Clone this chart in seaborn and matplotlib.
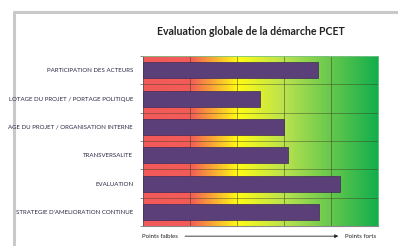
import numpy as np
import pandas as pd
import matplotlib
matplotlib.use("Agg")
import matplotlib.pyplot as plt
from matplotlib.colors import LinearSegmentedColormap
import seaborn as sns

# categories (left part of the long labels is cut off in the screenshot)
criteres = [
    "PARTICIPATION DES ACTEURS",
    "LOTAGE DU PROJET / PORTAGE POLITIQUE",
    "AGE DU PROJET / ORGANISATION INTERNE",
    "TRANSVERSALITE",
    "EVALUATION",
    "STRATEGIE D'AMELIORATION CONTINUE",
]
notes = [3.72, 2.49, 3.0, 3.09, 4.18, 3.74]

df = pd.DataFrame({"critere": criteres, "note": notes})

sns.set_style("white")
plt.rcParams["font.family"] = ["Lato", "DejaVu Sans"]

fig = plt.figure(figsize=(3.98, 2.46), dpi=100)
ax = fig.add_axes([0.359, 0.081, 0.591, 0.691])

# red -> yellow -> green background
cmap = LinearSegmentedColormap.from_list("rg", [
    (0.0, "#f25a5a"), (0.2, "#f25c57"), (0.27, "#f7943e"),
    (0.4, "#fffb14"), (0.6, "#b9e24e"), (1.0, "#12ae4c")])
grad = np.linspace(0, 1, 300).reshape(1, -1)
ax.imshow(grad, cmap=cmap, aspect="auto", extent=(0, 5, 5.5, -0.5), zorder=0)

sns.barplot(data=df, x="note", y="critere", orient="h", color="#5b3f79",
            saturation=1, width=0.57, edgecolor="#3f2a58", linewidth=0.5,
            ax=ax, zorder=3)

for v in range(1, 5):
    ax.axvline(v, color="#3a3a20", lw=0.5, alpha=0.7, zorder=2)
for k in range(len(criteres) - 1):
    ax.axhline(k + 0.5, color="#3a3a20", lw=0.5, alpha=0.6, zorder=2)

ax.set_xlim(0, 5)
ax.set_ylim(5.5, -0.5)
ax.set_xlabel("")
ax.set_ylabel("")
ax.set_xticks([])
ax.set_yticks(range(len(criteres)))
ax.set_yticklabels(criteres, fontsize=4.4, color="#2a2a44")
ax.set_yticks(np.arange(-0.5, 6, 1), minor=True)
ax.tick_params(axis="y", which="major", length=0, pad=7)
ax.tick_params(axis="y", which="minor", length=2, width=0.5, color="#666666", left=True)
for side in ["top", "right"]:
    ax.spines[side].set_color("#7cc08a")
    ax.spines[side].set_linewidth(0.6)
ax.spines["left"].set_color("#555555")
ax.spines["left"].set_linewidth(0.6)
ax.spines["bottom"].set_color("#888888")
ax.spines["bottom"].set_linewidth(0.8)

fig.text(0.63, 0.87, "Evaluation globale de la démarche PCET", ha="center",
         va="center", fontsize=7.6, fontweight="bold", color="#222222")

# weak / strong arrow under the chart
fig.text(0.357, 0.04, "Points faibles", ha="left", va="center", fontsize=4.4, color="#222222")
fig.text(0.866, 0.04, "Points forts", ha="left", va="center", fontsize=4.4, color="#222222")
fig.patches.append(matplotlib.patches.FancyArrowPatch(
    (0.458, 0.04), (0.857, 0.04), transform=fig.transFigure,
    arrowstyle="-|>", mutation_scale=5, lw=0.6, color="#222222"))

# grey frame of the spreadsheet chart area (behind the labels)
fig.add_artist(plt.Line2D([0.035, 1.0], [0.953, 0.953], color="#c9c9c9", lw=2.2, zorder=-1))
fig.add_artist(plt.Line2D([0.035, 0.035], [0.0, 0.953], color="#c9c9c9", lw=2.2, zorder=-1))

fig.savefig("out.png", dpi=100)
